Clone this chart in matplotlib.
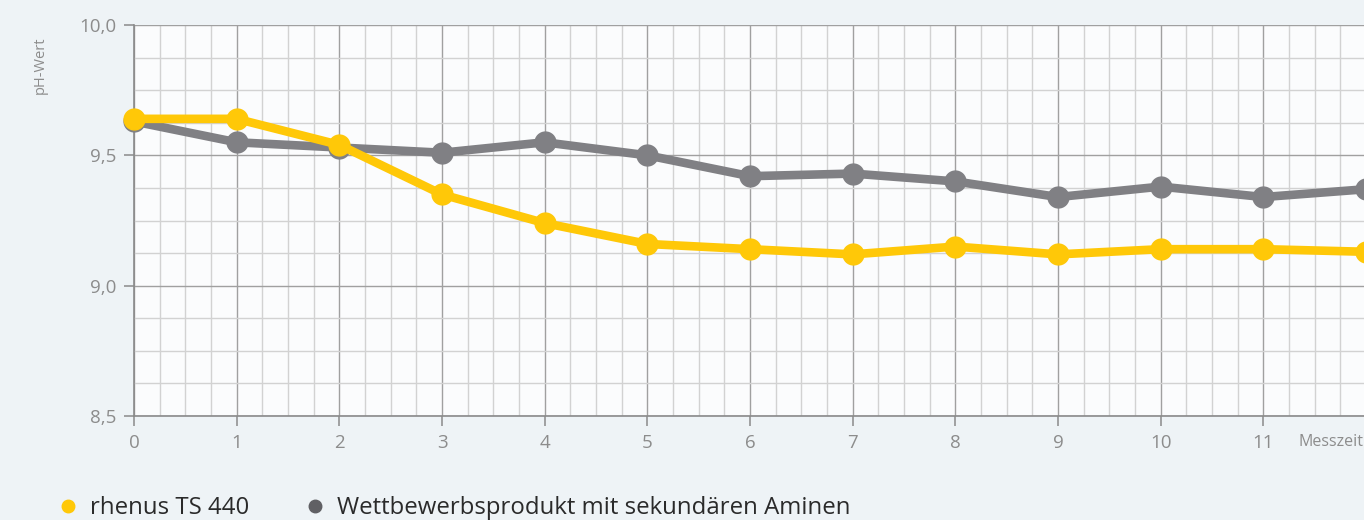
import numpy as np
import matplotlib.pyplot as plt
from matplotlib.lines import Line2D
from matplotlib.ticker import MultipleLocator, FuncFormatter

messzeit = [0, 1, 2, 3, 4, 5, 6, 7, 8, 9, 10, 11, 12]
rhenus = [9.64, 9.64, 9.54, 9.35, 9.24, 9.16, 9.14, 9.12, 9.15, 9.12, 9.14, 9.14, 9.13]
wettbewerb = [9.63, 9.55, 9.53, 9.51, 9.55, 9.50, 9.42, 9.43, 9.40, 9.34, 9.38, 9.34, 9.37]
x_labels = ["0", "1", "2", "3", "4", "5", "6", "7", "8", "9", "10", "11"]
namen = ["rhenus TS 440", "Wettbewerbsprodukt mit sekundären Aminen"]

gelb = "#ffc808"
grau = "#808084"
tick_farbe = "#8c8c8c"

plt.rcParams['font.family'] = ['Open Sans', 'DejaVu Sans']

fig = plt.figure(figsize=(13.64, 5.2), dpi=100, facecolor="#eef3f6")
ax = fig.add_axes([134/1364, 104/520, 1232/1364, 391/520])
ax.set_facecolor("#fbfcfd")

ax.set_xlim(0, 12)
ax.set_ylim(8.5, 10.0)
ax.xaxis.set_major_locator(MultipleLocator(1))
ax.xaxis.set_minor_locator(MultipleLocator(0.25))
ax.yaxis.set_major_locator(MultipleLocator(0.5))
ax.yaxis.set_minor_locator(MultipleLocator(0.125))
ax.grid(which="major", color="#a0a0a0", linewidth=1.0)
ax.grid(which="minor", color="#d2d2d2", linewidth=1.0)
ax.set_axisbelow(True)

ax.set_xticks(range(len(x_labels)))
ax.set_xticklabels(x_labels)
ax.yaxis.set_major_formatter(FuncFormatter(lambda v, p: f"{v:.1f}".replace(".", ",")))
ax.tick_params(which="major", length=7, width=1.1, color="#8a8a8a",
               labelcolor=tick_farbe, labelsize=13.5, pad=6)
ax.tick_params(which="minor", length=0)
for s in ["top", "right"]:
    ax.spines[s].set_visible(False)
for s in ["left", "bottom"]:
    ax.spines[s].set_color("#8a8a8a")
    ax.spines[s].set_linewidth(1.2)

ax.plot(messzeit, wettbewerb, color=grau, linewidth=6.2, marker="o", markersize=15,
        solid_joinstyle="round", clip_on=False, zorder=3)
ax.plot(messzeit, rhenus, color=gelb, linewidth=6.2, marker="o", markersize=15,
        solid_joinstyle="round", clip_on=False, zorder=4)

fig.text(40/1364, 1 - 65/520, "pH-Wert", rotation=90, ha="center", va="center",
         fontsize=10.5, color=tick_farbe)
fig.text(1298/1364, 1 - 442/520, "Messzeit", ha="left", va="center",
         fontsize=11.5, color=tick_farbe)

handles = [Line2D([], [], linestyle="none", marker="o", markersize=9, color=gelb),
           Line2D([], [], linestyle="none", marker="o", markersize=9, color="#606064")]
fig.legend(handles, namen, loc="center left", bbox_to_anchor=(58/1364, 1 - 508/520),
           ncol=2, frameon=False, handletextpad=0.55, columnspacing=2.3,
           handlelength=0.8, labelcolor="#2a2a2a", borderaxespad=0, borderpad=0,
           prop={'family': ['Open Sans', 'DejaVu Sans'], 'size': 17.3})

fig.savefig("out.png", dpi=100, facecolor=fig.get_facecolor())
